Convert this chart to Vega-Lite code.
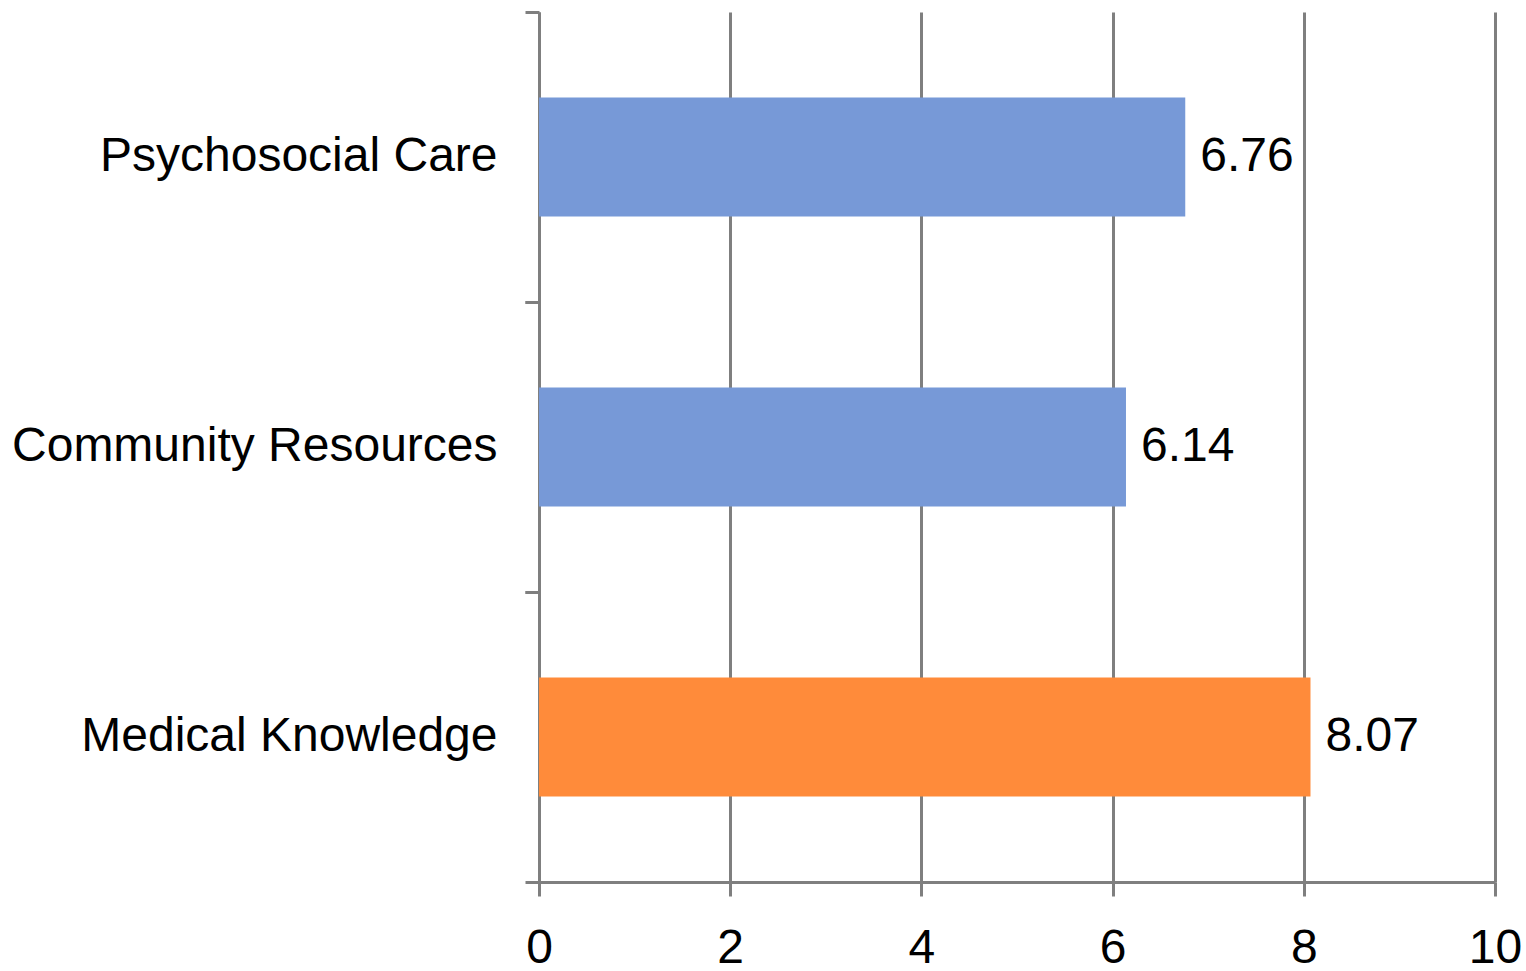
{
  "$schema": "https://vega.github.io/schema/vega-lite/v6.json",
  "width": 956,
  "height": 870,
  "autosize": {"type": "none"},
  "padding": {"left": 539, "top": 12, "right": 31, "bottom": 89},
  "background": "white",
  "config": {
    "view": {"stroke": null},
    "font": "Liberation Sans"
  },
  "data": {
    "values": [
      {"domain": "Psychosocial Care", "score": 6.76, "group": "other"},
      {"domain": "Community Resources", "score": 6.14, "group": "other"},
      {"domain": "Medical Knowledge", "score": 8.07, "group": "medical"}
    ]
  },
  "layer": [
    {
      "mark": {"type": "bar", "height": {"band": 0.41}},
      "encoding": {
        "y": {
          "field": "domain",
          "type": "nominal",
          "sort": null,
          "scale": {"paddingInner": 0, "paddingOuter": 0},
          "axis": {
            "title": null,
            "orient": "left",
            "bandPosition": 0,
            "domainColor": "#7f7f7f",
            "domainWidth": 3,
            "tickColor": "#7f7f7f",
            "tickWidth": 3,
            "tickSize": 14,
            "labelFontSize": 48,
            "labelColor": "#000000",
            "labelPadding": 28,
            "labelFont": "Liberation Sans",
            "labelLimit": 700,
            "grid": false
          }
        },
        "x": {
          "field": "score",
          "type": "quantitative",
          "scale": {"domain": [0, 10], "nice": false},
          "axis": {
            "title": null,
            "values": [0, 2, 4, 6, 8, 10],
            "format": "d",
            "labelFlush": false,
            "grid": true,
            "gridColor": "#7f7f7f",
            "gridWidth": 3,
            "gridOpacity": 1,
            "domainColor": "#7f7f7f",
            "domainWidth": 3,
            "tickColor": "#7f7f7f",
            "tickWidth": 3,
            "tickSize": 14,
            "labelFontSize": 48,
            "labelColor": "#000000",
            "labelPadding": 28,
            "labelFont": "Liberation Sans"
          }
        },
        "color": {
          "field": "group",
          "type": "nominal",
          "scale": {"domain": ["other", "medical"], "range": ["#7799d7", "#ff8b3a"]},
          "legend": null
        }
      }
    },
    {
      "mark": {"type": "text", "align": "left", "baseline": "middle", "dx": 15, "fontSize": 48, "color": "#000000", "font": "Liberation Sans"},
      "encoding": {
        "y": {
          "field": "domain",
          "type": "nominal",
          "sort": null,
          "axis": {
            "title": null,
            "orient": "left",
            "offset": 0,
            "bandPosition": 1,
            "domain": false,
            "labels": false,
            "grid": false,
            "tickColor": "#7f7f7f",
            "tickWidth": 3,
            "tickSize": 14
          }
        },
        "x": {"field": "score", "type": "quantitative"},
        "text": {"field": "score", "type": "quantitative", "format": ".2f"}
      }
    }
  ],
  "resolve": {"axis": {"y": "independent"}}
}
